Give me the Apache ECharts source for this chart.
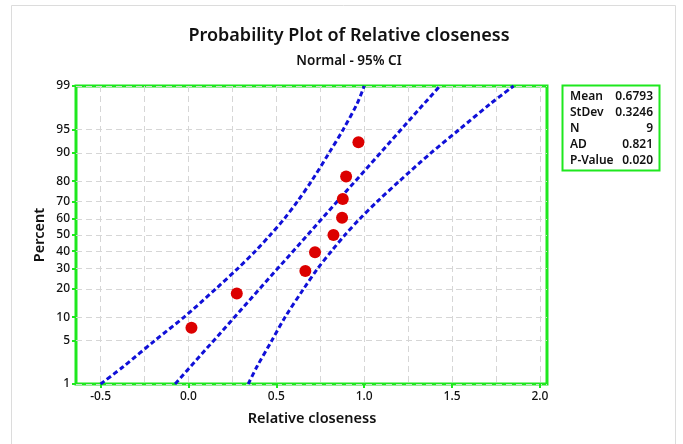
<!DOCTYPE html>
<html>
<head>
<meta charset="utf-8">
<script src="https://cdn.jsdelivr.net/npm/echarts@6/dist/echarts.min.js"></script>
<style>
  html, body { margin: 0; padding: 0; background: #fff; }
  #chart { width: 683px; height: 444px; }
</style>
</head>
<body>
<div id="chart"></div>
<script>
// values
var closeness = [0.017, 0.275, 0.665, 0.720, 0.825, 0.874, 0.878, 0.897, 0.967];
var plotPercent = [7.4, 18.1, 28.7, 39.4, 50.0, 60.6, 71.3, 81.9, 92.6];

// 95% CI bands, read at these percent levels
var bandPercent = [1, 2, 5, 10, 20, 30, 40, 50, 60, 70, 80, 90, 95, 98, 99];
var lowerBand = [-0.50, -0.37, -0.19, -0.025, 0.155, 0.28, 0.38, 0.465, 0.545, 0.62, 0.70, 0.80, 0.88, 0.96, 1.00];
var upperBand = [0.34, 0.39, 0.475, 0.55, 0.655, 0.735, 0.813, 0.89, 0.975, 1.075, 1.20, 1.38, 1.54, 1.72, 1.85];

// fitted line end points
var fitPercent = [1, 99];
var fitLine = [-0.076, 1.43];

var yTicks = [1, 5, 10, 20, 30, 40, 50, 60, 70, 80, 90, 95, 99];
var xTicks = [-0.5, 0.0, 0.5, 1.0, 1.5, 2.0];
var xGrid = [-0.5, -0.25, 0, 0.25, 0.5, 0.75, 1.0, 1.25, 1.5, 1.75, 2.0];

var statNames = ['Mean', 'StDev', 'N', 'AD', 'P-Value'];
var statValues = ['0.6793', '0.3246', '9', '0.821', '0.020'];

var GREEN = '#1ee81e';
var BLUE = '#1010d8';
var FONT = 'Noto Sans';

// inverse normal cdf (Acklam) - the percent axis is a normal-score scale
function normInv(p) {
    var a = [-3.969683028665376e+01, 2.209460984245205e+02, -2.759285104469687e+02, 1.383577518672690e+02, -3.066479806614716e+01, 2.506628277459239e+00];
    var b = [-5.447609879822406e+01, 1.615858368580409e+02, -1.556989798598866e+02, 6.680131188771972e+01, -1.328068155288572e+01];
    var c = [-7.784894002430293e-03, -3.223964580411365e-01, -2.400758277161838e+00, -2.549732539343734e+00, 4.374664141464968e+00, 2.938163982698783e+00];
    var d = [7.784695709041462e-03, 3.224671290700398e-01, 2.445134137142996e+00, 3.754408661907416e+00];
    var plow = 0.02425, q, r;
    if (p < plow) {
        q = Math.sqrt(-2 * Math.log(p));
        return (((((c[0]*q+c[1])*q+c[2])*q+c[3])*q+c[4])*q+c[5]) / ((((d[0]*q+d[1])*q+d[2])*q+d[3])*q+1);
    }
    if (p > 1 - plow) {
        q = Math.sqrt(-2 * Math.log(1 - p));
        return -(((((c[0]*q+c[1])*q+c[2])*q+c[3])*q+c[4])*q+c[5]) / ((((d[0]*q+d[1])*q+d[2])*q+d[3])*q+1);
    }
    q = p - 0.5; r = q * q;
    return (((((a[0]*r+a[1])*r+a[2])*r+a[3])*r+a[4])*r+a[5])*q / (((((b[0]*r+b[1])*r+b[2])*r+b[3])*r+b[4])*r+1);
}
function score(pct) { return normInv(pct / 100); }

var yTickScores = yTicks.map(score);

function pctLabel(v) {
    // map a normal score back to the nearest tick percent
    var best = 0;
    for (var i = 1; i < yTickScores.length; i++) {
        if (Math.abs(yTickScores[i] - v) < Math.abs(yTickScores[best] - v)) best = i;
    }
    return String(yTicks[best]);
}

function pairs(xs, ps) {
    return xs.map(function (x, i) { return [x, score(ps[i])]; });
}

var dashed = { color: BLUE, width: 3, type: [5, 3] };

var chart = echarts.init(document.getElementById('chart'), null, { renderer: 'canvas' });

var statTexts = [];
statNames.forEach(function (n, i) {
    statTexts.push({ type: 'text', x: 570, y: 97 + i * 15.8,
        style: { text: n, font: '600 12px "' + FONT + '"', fill: '#111', textVerticalAlign: 'middle' } });
    statTexts.push({ type: 'text', x: 653, y: 97 + i * 15.8,
        style: { text: statValues[i], font: '600 12px "' + FONT + '"', fill: '#111',
            textAlign: 'right', textVerticalAlign: 'middle' } });
});

chart.setOption({
    animation: false,
    backgroundColor: '#fff',
    title: [{
        text: 'Probability Plot of Relative closeness',
        left: 344, top: 22, textAlign: 'center',
        textStyle: { fontFamily: FONT, fontSize: 18, fontWeight: 600, color: '#111' }
    }, {
        text: 'Normal - 95% CI',
        left: 344, top: 49, textAlign: 'center',
        textStyle: { fontFamily: FONT, fontSize: 13.5, fontWeight: 600, color: '#111' }
    }],
    grid: {
        left: 76, top: 86, right: 136, bottom: 60,
        show: true, borderColor: GREEN, borderWidth: 3, backgroundColor: 'transparent',
        outerBoundsMode: 'none'
    },
    xAxis: [{
        type: 'value', min: -0.64, max: 2.04, position: 'bottom',
        axisLine: { show: false, onZero: false },
        axisTick: { show: true, length: 4, customValues: xTicks, lineStyle: { color: GREEN, width: 2 } },
        axisLabel: { customValues: xTicks, margin: 7, fontFamily: FONT, fontSize: 12, fontWeight: 500, color: '#111',
            formatter: function (v) { return v.toFixed(1); } },
        splitLine: { show: false }
    }, {
        type: 'value', min: -0.64, max: 2.04, position: 'bottom',
        axisLine: { show: false, onZero: false },
        axisTick: { show: false, customValues: xGrid },
        axisLabel: { show: false },
        splitLine: { show: true, lineStyle: { color: '#d6d6d6', width: 1, type: [6, 4] } }
    }],
    yAxis: {
        type: 'value', min: score(1), max: score(99), position: 'left',
        axisLine: { show: false, onZero: false },
        axisTick: { show: true, length: 4, customValues: yTickScores, lineStyle: { color: GREEN, width: 2 } },
        axisLabel: { customValues: yTickScores, margin: 6, fontFamily: FONT, fontSize: 12, fontWeight: 500, color: '#111',
            formatter: pctLabel },
        splitLine: { show: true, lineStyle: { color: '#d6d6d6', width: 1, type: [6, 4] } }
    },
    graphic: [{
        type: 'rect', shape: { x: 11.5, y: 5.5, width: 664, height: 460 },
        style: { fill: 'none', stroke: '#dcdcdc', lineWidth: 1 }, silent: true
    }, {
        type: 'text', x: 40, y: 235, rotation: Math.PI / 2,
        style: { text: 'Percent', font: '600 14.5px "' + FONT + '"', fill: '#111',
            textAlign: 'center', textVerticalAlign: 'middle' }
    }, {
        type: 'text', x: 312, y: 419,
        style: { text: 'Relative closeness', font: '600 14.5px "' + FONT + '"', fill: '#111',
            textAlign: 'center', textVerticalAlign: 'middle' }
    }, {
        type: 'rect', shape: { x: 562.5, y: 85.5, width: 97, height: 85 },
        style: { fill: '#fff', stroke: GREEN, lineWidth: 2 }
    }].concat(statTexts),
    series: [{
        type: 'line', name: 'lower', data: pairs(lowerBand, bandPercent),
        smooth: 0.3, showSymbol: false, lineStyle: dashed, clip: true, z: 3
    }, {
        type: 'line', name: 'upper', data: pairs(upperBand, bandPercent),
        smooth: 0.3, showSymbol: false, lineStyle: dashed, clip: true, z: 3
    }, {
        type: 'line', name: 'fit', data: pairs(fitLine, fitPercent),
        showSymbol: false, lineStyle: dashed, clip: true, z: 3
    }, {
        type: 'scatter', name: 'data', data: pairs(closeness, plotPercent),
        symbolSize: 12, itemStyle: { color: '#dc0000', opacity: 1 }, z: 4
    }]
});
</script>
</body>
</html>
